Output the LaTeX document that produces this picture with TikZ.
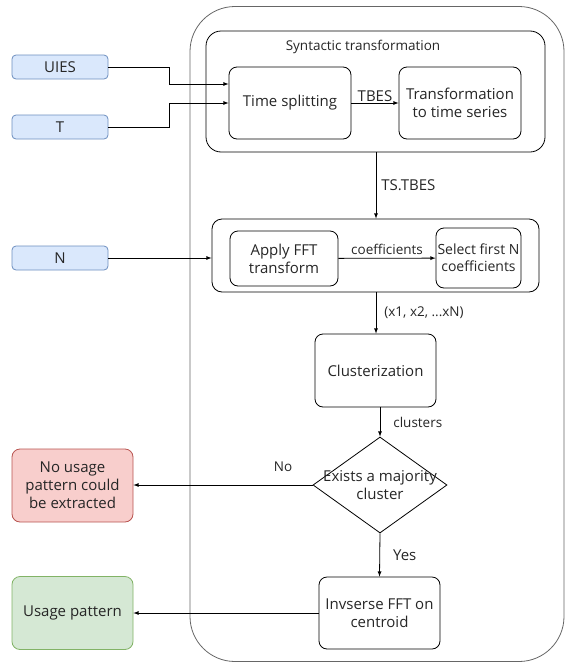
\documentclass[tikz,border=0pt]{standalone}
\usepackage{fontspec}
\setmainfont{Open Sans}
\usetikzlibrary{shapes.geometric}
\definecolor{inputfill}{HTML}{DAE8FC}
\definecolor{inputline}{HTML}{6C8EBF}
\definecolor{failfill}{HTML}{F8CECC}
\definecolor{failline}{HTML}{B85450}
\definecolor{okfill}{HTML}{D5E8D4}
\definecolor{okline}{HTML}{82B366}

\begin{document}
\begin{tikzpicture}[x=1pt, y=-1pt, >=latex, line width=0.8pt,
  every node/.style = {align=center, inner sep=1pt, text=black!85,
    font=\fontsize{15}{18}\selectfont}]
    \tikzstyle{stepbox}=[shape=rectangle, rounded corners=8pt, draw]
    \tikzstyle{frame}=[shape=rectangle, rounded corners=15pt, draw]
    \tikzstyle{inbox}=[stepbox, rounded corners=4pt, draw=inputline, fill=inputfill,
      minimum width=96, minimum height=24]
    \tikzstyle{outbox}=[stepbox, minimum width=121, minimum height=73]
    \tikzstyle{lbl}=[font=\fontsize{13.5}{16}\selectfont]
  \useasboundingbox (0,0) rectangle (566,664);
  \node[frame, rounded corners=45pt, draw=black!60, minimum width=374,
    minimum height=655] (main) at (377,334) {};
  \node[frame, minimum width=339, minimum height=121] (syn) at (375.5,91.5) {};
  \node[lbl] (syntitle) at (363,47) {Syntactic transformation};
  \node[inbox] (uies) at (60,67) {UIES};
  \node[inbox] (t) at (60,127) {T};
  \node[inbox] (n) at (60,258) {N};
  \node[stepbox, minimum width=122, minimum height=72] (split) at (290,103) {Time splitting};
  \node[stepbox, minimum width=122, minimum height=72] (totime) at (460,103)
    {Transformation\\to time series};
  \node[frame, rounded corners=10pt, minimum width=327, minimum height=73] (fft) at (375.5,255.5) {};
  \node[stepbox, minimum width=108, minimum height=55] (apply) at (284,258.5) {Apply FFT\\transform};
  \node[stepbox, minimum width=85, minimum height=60, inner sep=0pt,
    font=\fontsize{14}{17}\selectfont] (select) at (478.5,258) {Select first N\\coefficients};
  \node[stepbox, minimum width=121, minimum height=73] (clust) at (375.5,370.5) {Clusterization};
  \node[diamond, draw, minimum width=134, minimum height=96, inner sep=0pt] (major) at (380,485) {};
  \node (majortxt) at (380,485) {Exists a majority\\cluster};
  \node[stepbox, minimum width=121, minimum height=72] (inverse) at (379.5,613)
    {Invserse FFT on\\centroid};
  \node[outbox, draw=failline, fill=failfill] (nopattern) at (72.5,485.5)
    {No usage\\pattern could\\be extracted};
  \node[outbox, draw=okline, fill=okfill] (pattern) at (72.5,613) {Usage pattern};

  \draw[->] (uies.east) -| (169,84) -- ([yshift=19pt]split.west);
  \draw[->] (t.east) -| (169,103) -- (split.west);
  \draw[->] (split) -- node[above] (tbes) {TBES} (totime);
  \draw[->] (syn.south -| 376,0) -- node[right=4pt] (tstbes) {TS.TBES} (fft.north -| 376,0);
  \draw[->] (n.east) -- (fft.west |- n.east);
  \draw[->] (apply) -- node[lbl, above=2pt] (coef) {coefficients} (select);
  \draw[->] (fft.south -| 376,0) -- node[lbl, right=7pt] (xs) {(x1, x2, ...xN)} (clust.north -| 376,0);
  \draw[->] (clust.south -| major.north) -- node[lbl, right=12pt] (cl) {clusters} (major.north);
  \draw[->] (major.west) -- (nopattern.east |- major.west);
  \node[lbl] (no) at (283,467) {No};
  \draw[->] (major.south) -- node[right=12pt] (yes) {Yes} (inverse.north);
  \draw[->] (inverse.west) -- (pattern.east |- inverse.west);
\end{tikzpicture}
\end{document}
